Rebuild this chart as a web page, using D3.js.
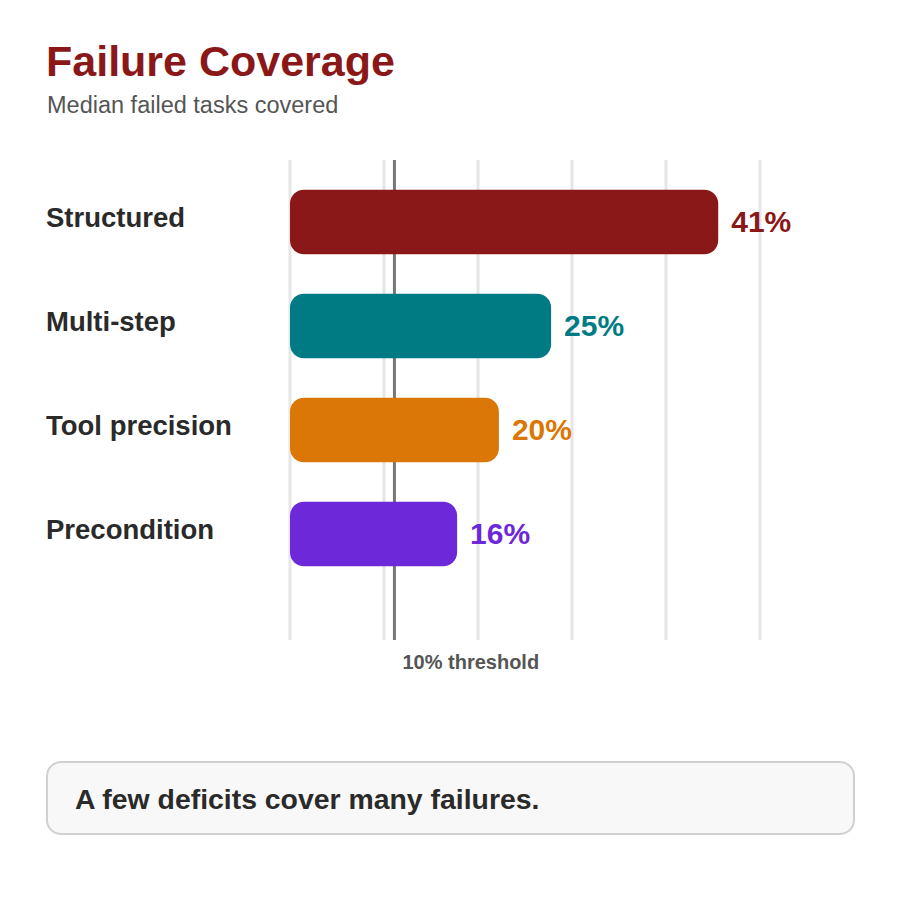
<!DOCTYPE html>
<html><head><meta charset="utf-8">
<script src="https://cdn.jsdelivr.net/npm/d3@7"></script>
<style>body{margin:0;background:#fff}svg{display:block;font-family:"Liberation Sans",Arial,sans-serif}</style>
</head><body><svg id="c" width="900" height="900"></svg>
<script>
const categories = ["Structured","Multi-step","Tool precision","Precondition"];
const values = [41,25,20,16];
const colors = ["#8b1818","#007b84","#db7706","#6d28d9"];
const gridTicks = [0,9,18,27,36,45];
const threshold = 10;
const title = "Failure Coverage";
const subtitle = "Median failed tasks covered";
const callout = "A few deficits cover many failures.";

const svg = d3.select("#c");
svg.append("rect").attr("width",900).attr("height",900).attr("fill","#fff");
svg.append("text").attr("x",46).attr("y",76).attr("font-size",43).attr("font-weight","bold").attr("fill","#8b1818").text(title);
svg.append("text").attr("x",47).attr("y",113).attr("font-size",23.5).attr("fill","#555").text(subtitle);

const x = d3.scaleLinear().domain([0,45]).range([290,760]);
const y = d3.scaleBand().domain(categories).range([170,586]).paddingInner(0.38).paddingOuter(0.19);

svg.append("g").selectAll("line").data(gridTicks).join("line")
  .attr("x1",d=>x(d)).attr("x2",d=>x(d)).attr("y1",160).attr("y2",640)
  .attr("stroke","#e6e6e6").attr("stroke-width",3);

svg.append("line").attr("x1",x(threshold)).attr("x2",x(threshold)).attr("y1",160).attr("y2",640)
  .attr("stroke","#777").attr("stroke-width",3);
svg.append("text").attr("x",x(threshold)+8).attr("y",669).attr("font-size",20).attr("font-weight","bold").attr("fill","#555").text(threshold+"% threshold");

const g = svg.append("g");
categories.forEach((c,i)=>{
  const yy = y(c), h = y.bandwidth();
  g.append("rect").attr("x",x(0)).attr("y",yy).attr("width",x(values[i])-x(0)).attr("height",h)
    .attr("rx",14).attr("fill",colors[i]);
  g.append("text").attr("x",46).attr("y",yy+h/2+5).attr("font-size",27.5).attr("font-weight","bold").attr("fill","#2a2a2a").text(c);
  g.append("text").attr("x",x(values[i])+13).attr("y",yy+h/2+10).attr("font-size",30).attr("font-weight","bold").attr("fill",colors[i]).text(values[i]+"%");
});

svg.append("rect").attr("x",47).attr("y",762).attr("width",807).attr("height",72).attr("rx",14)
  .attr("fill","#f8f8f8").attr("stroke","#d0d0d0").attr("stroke-width",2);
svg.append("text").attr("x",75).attr("y",809).attr("font-size",28.4).attr("font-weight","bold").attr("fill","#2a2a2a").text(callout);
</script></body></html>
